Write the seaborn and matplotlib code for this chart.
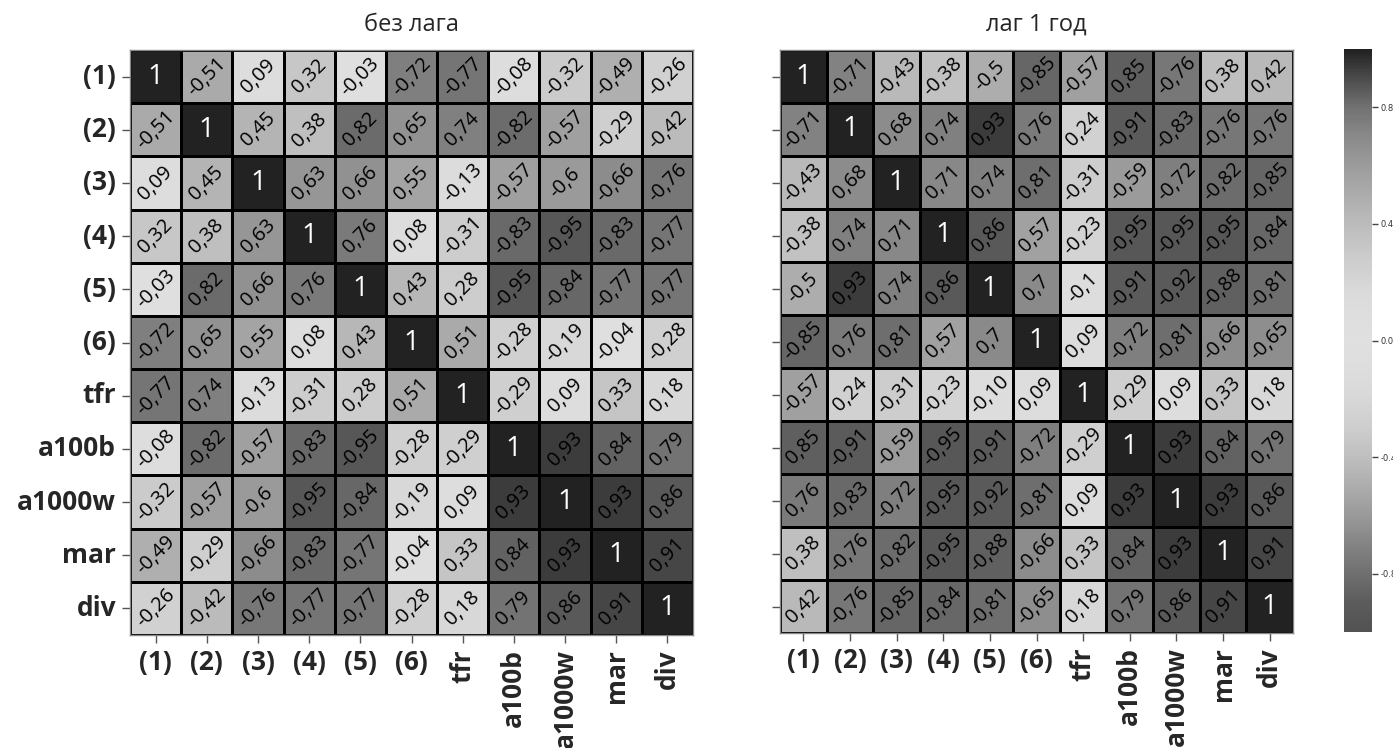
import numpy as np
import pandas as pd
import matplotlib
matplotlib.use("Agg")
import matplotlib.pyplot as plt
from matplotlib.colors import LinearSegmentedColormap
import seaborn as sns

sns.set_style("white")
plt.rcParams['font.family'] = ['Open Sans', 'DejaVu Sans']

variables = ["(1)", "(2)", "(3)", "(4)", "(5)", "(6)", "tfr", "a100b", "a1000w", "mar", "div"]

title_left = "без лага"
title_right = "лаг 1 год"

# annotation texts as printed in the reference (comma decimal)
no_lag_text = [
    ["1", "-0,51", "0,09", "0,32", "-0,03", "-0,72", "-0,77", "-0,08", "-0,32", "-0,49", "-0,26"],
    ["-0,51", "1", "0,45", "0,38", "0,82", "0,65", "0,74", "-0,82", "-0,57", "-0,29", "-0,42"],
    ["0,09", "0,45", "1", "0,63", "0,66", "0,55", "-0,13", "-0,57", "-0,6", "-0,66", "-0,76"],
    ["0,32", "0,38", "0,63", "1", "0,76", "0,08", "-0,31", "-0,83", "-0,95", "-0,83", "-0,77"],
    ["-0,03", "0,82", "0,66", "0,76", "1", "0,43", "0,28", "-0,95", "-0,84", "-0,77", "-0,77"],
    ["-0,72", "0,65", "0,55", "0,08", "0,43", "1", "0,51", "-0,28", "-0,19", "-0,04", "-0,28"],
    ["-0,77", "0,74", "-0,13", "-0,31", "0,28", "0,51", "1", "-0,29", "0,09", "0,33", "0,18"],
    ["-0,08", "-0,82", "-0,57", "-0,83", "-0,95", "-0,28", "-0,29", "1", "0,93", "0,84", "0,79"],
    ["-0,32", "-0,57", "-0,6", "-0,95", "-0,84", "-0,19", "0,09", "0,93", "1", "0,93", "0,86"],
    ["-0,49", "-0,29", "-0,66", "-0,83", "-0,77", "-0,04", "0,33", "0,84", "0,93", "1", "0,91"],
    ["-0,26", "-0,42", "-0,76", "-0,77", "-0,77", "-0,28", "0,18", "0,79", "0,86", "0,91", "1"],
]

lag1_text = [
    ["1", "-0,71", "-0,43", "-0,38", "-0,5", "-0,85", "-0,57", "0,85", "-0,76", "0,38", "0,42"],
    ["-0,71", "1", "0,68", "0,74", "0,93", "0,76", "0,24", "-0,91", "-0,83", "-0,76", "-0,76"],
    ["-0,43", "0,68", "1", "0,71", "0,74", "0,81", "-0,31", "-0,59", "-0,72", "-0,82", "-0,85"],
    ["-0,38", "0,74", "0,71", "1", "0,86", "0,57", "-0,23", "-0,95", "-0,95", "-0,95", "-0,84"],
    ["-0,5", "0,93", "0,74", "0,86", "1", "0,7", "-0,1", "-0,91", "-0,92", "-0,88", "-0,81"],
    ["-0,85", "0,76", "0,81", "0,57", "0,7", "1", "0,09", "-0,72", "-0,81", "-0,66", "-0,65"],
    ["-0,57", "0,24", "-0,31", "-0,23", "-0,10", "0,09", "1", "-0,29", "0,09", "0,33", "0,18"],
    ["0,85", "-0,91", "-0,59", "-0,95", "-0,91", "-0,72", "-0,29", "1", "0,93", "0,84", "0,79"],
    ["0,76", "-0,83", "-0,72", "-0,95", "-0,92", "-0,81", "0,09", "0,93", "1", "0,93", "0,86"],
    ["0,38", "-0,76", "-0,82", "-0,95", "-0,88", "-0,66", "0,33", "0,84", "0,93", "1", "0,91"],
    ["0,42", "-0,76", "-0,85", "-0,84", "-0,81", "-0,65", "0,18", "0,79", "0,86", "0,91", "1"],
]

cbar_ticks = [-0.8, -0.4, 0.0, 0.4, 0.8]


def to_frame(text):
    vals = [[float(s.replace(",", ".")) for s in row] for row in text]
    return pd.DataFrame(vals, index=variables, columns=variables)


# grey diverging colormap: light at 0, dark at both ends (darker at +1)
grey_levels = [(0.00, 0x52), (0.05, 0x5c), (0.10, 0x70), (0.15, 0x84), (0.20, 0x9a),
               (0.25, 0xad), (0.30, 0xbf), (0.35, 0xce), (0.42, 0xdb), (0.50, 0xe0),
               (0.58, 0xdb), (0.65, 0xca), (0.72, 0xb6), (0.80, 0x9c), (0.85, 0x8a),
               (0.90, 0x72), (0.95, 0x4c), (1.00, 0x22)]
cmap = LinearSegmentedColormap.from_list(
    "greydiv", [(p, (g / 255, g / 255, g / 255)) for p, g in grey_levels])

W, H = 1393, 748
fig = plt.figure(figsize=(W / 100, H / 100), dpi=100)
ax1 = fig.add_axes([130 / W, 1 - 635 / H, 563 / W, 585 / H])
ax2 = fig.add_axes([780 / W, 1 - 633 / H, 513 / W, 583 / H])
cax = fig.add_axes([1344 / W, 1 - 632 / H, 28 / W, 583 / H])

annot_kws = dict(rotation=45, fontsize=14.5, color="black", family="Open Sans")

for ax, text, title, show_cbar in [(ax1, no_lag_text, title_left, False),
                                   (ax2, lag1_text, title_right, True)]:
    df = to_frame(text)
    sns.heatmap(df, ax=ax, cmap=cmap, vmin=-1, vmax=1,
                annot=np.array(text), fmt="", annot_kws=annot_kws,
                linewidths=2, linecolor="black",
                cbar=show_cbar, cbar_ax=cax if show_cbar else None,
                cbar_kws={"ticks": cbar_ticks} if show_cbar else None)
    for t in ax.texts:
        if t.get_text() == "1":
            t.set_color("white")
            t.set_rotation(0)
            t.set_fontsize(20)
    ax.set_title(title, fontsize=17, pad=14)
    ax.set_xlabel("")
    ax.set_ylabel("")
    ax.tick_params(axis="both", which="both", length=6, width=1, color="#555555",
                   bottom=True, left=True, pad=4)
    ax.set_xticks(np.arange(len(variables)) + 0.5)
    ax.set_xticklabels(variables, fontsize=19, fontweight="bold")
    for lab in ax.get_xticklabels():
        if lab.get_text().startswith("("):
            lab.set_rotation(0)
        else:
            lab.set_rotation(90)
    ax.set_yticks(np.arange(len(variables)) + 0.5)
    if ax is ax1:
        ax.set_yticklabels(variables, fontsize=19, fontweight="bold", rotation=0)
    else:
        ax.set_yticklabels([])
    for sp in ax.spines.values():
        sp.set_visible(True)
        sp.set_color("#888888")
        sp.set_linewidth(1)

cax.tick_params(labelsize=6, length=4, width=1, pad=2, color="#444444", labelcolor="#333333")
cax.yaxis.set_major_formatter(matplotlib.ticker.FormatStrFormatter("%.1f"))
for lab in cax.get_yticklabels():
    lab.set_family("DejaVu Sans")

fig.savefig("out.png", dpi=100)
